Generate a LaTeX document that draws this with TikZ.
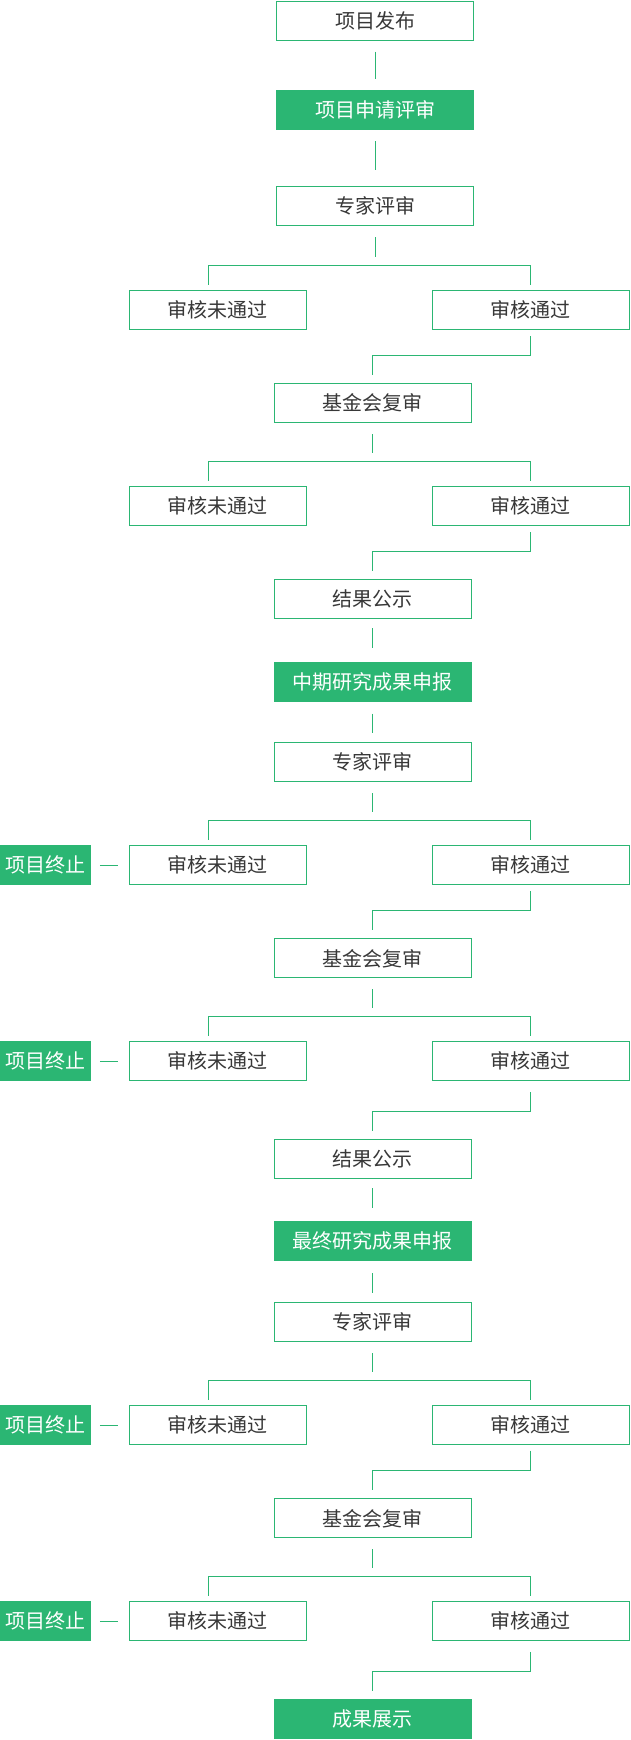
\documentclass[tikz,border=0pt]{standalone}
\usepackage{fontspec}
\newfontfamily\cjk{Noto Sans CJK SC}
\usetikzlibrary{positioning}
\definecolor{jade}{HTML}{2BB673}
\definecolor{ink}{HTML}{383838}

\begin{document}
\begin{tikzpicture}[x=1pt, y=1pt]
			\tikzstyle{stagebox} = [draw=jade, line width=1pt, text=ink, inner sep=0pt, minimum width=197pt, minimum height=39pt, font=\cjk\fontsize{20}{20}\selectfont]
			\tikzstyle{keybox} = [stagebox, fill=jade, text=white]
			\tikzstyle{rejectbox} = [stagebox, minimum width=177pt]
			\tikzstyle{stopbox} = [keybox, minimum width=90pt]
			\tikzstyle{link} = [draw=jade, line width=1pt]

			\useasboundingbox (0,0) rectangle (630,-1740);

			% first round
			\node[stagebox] (b1) at (375,-20.5) {项目发布};
			\node[keybox] (b2) at (375,-110.3) {项目申请评审};
			\node[stagebox] (b3) at (375,-206.3) {专家评审};
			\node[rejectbox] (f1) at (217.5,-310.3) {审核未通过};
			\node[stagebox] (p1) at (530.8,-310.3) {审核通过};
			\node[stagebox] (b4) at (372.9,-403.3) {基金会复审};
			\node[rejectbox] (f2) at (217.5,-506.3) {审核未通过};
			\node[stagebox] (p2) at (530.8,-506.3) {审核通过};
			\node[stagebox] (b5) at (372.9,-599.3) {结果公示};

			% mid-term round
			\node[keybox] (b6) at (372.9,-681.5) {中期研究成果申报};
			\node[stagebox] (b7) at (372.9,-762.3) {专家评审};
			\node[rejectbox] (f3) at (217.5,-865.3) {审核未通过};
			\node[stagebox] (p3) at (530.8,-865.3) {审核通过};
			\node[stopbox] (t3) at (45.4,-865.3) {项目终止};
			\node[stagebox] (b8) at (372.9,-958.3) {基金会复审};
			\node[rejectbox] (f4) at (217.5,-1061.3) {审核未通过};
			\node[stagebox] (p4) at (530.8,-1061.3) {审核通过};
			\node[stopbox] (t4) at (45.4,-1061.3) {项目终止};
			\node[stagebox] (b9) at (372.9,-1159.3) {结果公示};

			% final round
			\node[keybox] (b10) at (372.9,-1241.3) {最终研究成果申报};
			\node[stagebox] (b11) at (372.9,-1322.3) {专家评审};
			\node[rejectbox] (f5) at (217.5,-1425.3) {审核未通过};
			\node[stagebox] (p5) at (530.8,-1425.3) {审核通过};
			\node[stopbox] (t5) at (45.4,-1425.3) {项目终止};
			\node[stagebox] (b12) at (372.9,-1518.3) {基金会复审};
			\node[rejectbox] (f6) at (217.5,-1621.2) {审核未通过};
			\node[stagebox] (p6) at (530.8,-1621.2) {审核通过};
			\node[stopbox] (t6) at (45.4,-1621.2) {项目终止};
			\node[keybox] (b13) at (372.9,-1719.3) {成果展示};

			% straight links
			\draw[link, shorten <=11pt, shorten >=11pt] (b1.south) -- (b2.north);
			\draw[link, shorten <=11pt, shorten >=16pt] (b2.south) -- (b3.north);
			\draw[link, shorten <=9pt, shorten >=14pt] (b5.south) -- (b6.north);
			\draw[link, shorten <=12pt, shorten >=9pt] (b6.south) -- (b7.north);
			\draw[link, shorten <=9pt, shorten >=13pt] (b9.south) -- (b10.north);
			\draw[link, shorten <=12pt, shorten >=9pt] (b10.south) -- (b11.north);

			% stems down to the split
			\draw[link, shorten <=11pt, shorten >=8pt] (b3.south) -- ([yshift=25pt]b3.south |- f1.north);
			\draw[link, shorten <=11pt, shorten >=8pt] (b4.south) -- ([yshift=25pt]b4.south |- f2.north);
			\draw[link, shorten <=11pt, shorten >=8pt] (b7.south) -- ([yshift=25pt]b7.south |- f3.north);
			\draw[link, shorten <=11pt, shorten >=8pt] (b8.south) -- ([yshift=25pt]b8.south |- f4.north);
			\draw[link, shorten <=11pt, shorten >=8pt] (b11.south) -- ([yshift=25pt]b11.south |- f5.north);
			\draw[link, shorten <=11pt, shorten >=8pt] (b12.south) -- ([yshift=25pt]b12.south |- f6.north);

			% split bars
			\draw[link, shorten <=5.6pt, shorten >=5.6pt] ([xshift=-9pt]f1.north) -- ++(0,25) -| (p1.north);
			\draw[link, shorten <=5.6pt, shorten >=5.6pt] ([xshift=-9pt]f2.north) -- ++(0,25) -| (p2.north);
			\draw[link, shorten <=5.6pt, shorten >=5.6pt] ([xshift=-9pt]f3.north) -- ++(0,25) -| (p3.north);
			\draw[link, shorten <=5.6pt, shorten >=5.6pt] ([xshift=-9pt]f4.north) -- ++(0,25) -| (p4.north);
			\draw[link, shorten <=5.6pt, shorten >=5.6pt] ([xshift=-9pt]f5.north) -- ++(0,25) -| (p5.north);
			\draw[link, shorten <=5.6pt, shorten >=5.6pt] ([xshift=-9pt]f6.north) -- ++(0,25) -| (p6.north);

			% passed -> next step
			\draw[link, shorten <=6pt, shorten >=8.6pt] (p1.south) -- ++(0,-25) -| (b4.north);
			\draw[link, shorten <=6pt, shorten >=8.6pt] (p2.south) -- ++(0,-25) -| (b5.north);
			\draw[link, shorten <=6pt, shorten >=8.6pt] (p3.south) -- ++(0,-25) -| (b8.north);
			\draw[link, shorten <=11pt, shorten >=8.6pt] (p4.south) -- ++(0,-30) -| (b9.north);
			\draw[link, shorten <=5.4pt, shorten >=8.6pt] (p5.south) -- ++(0,-24.7) -| (b12.north);
			\draw[link, shorten <=10.7pt, shorten >=8.6pt] (p6.south) -- ++(0,-30) -| (b13.north);

			% failed -> stop
			\draw[link, shorten <=9pt, shorten >=11pt] (t3.east) -- (f3.west);
			\draw[link, shorten <=9pt, shorten >=11pt] (t4.east) -- (f4.west);
			\draw[link, shorten <=9pt, shorten >=11pt] (t5.east) -- (f5.west);
			\draw[link, shorten <=9pt, shorten >=11pt] (t6.east) -- (f6.west);

\end{tikzpicture}
\end{document}
